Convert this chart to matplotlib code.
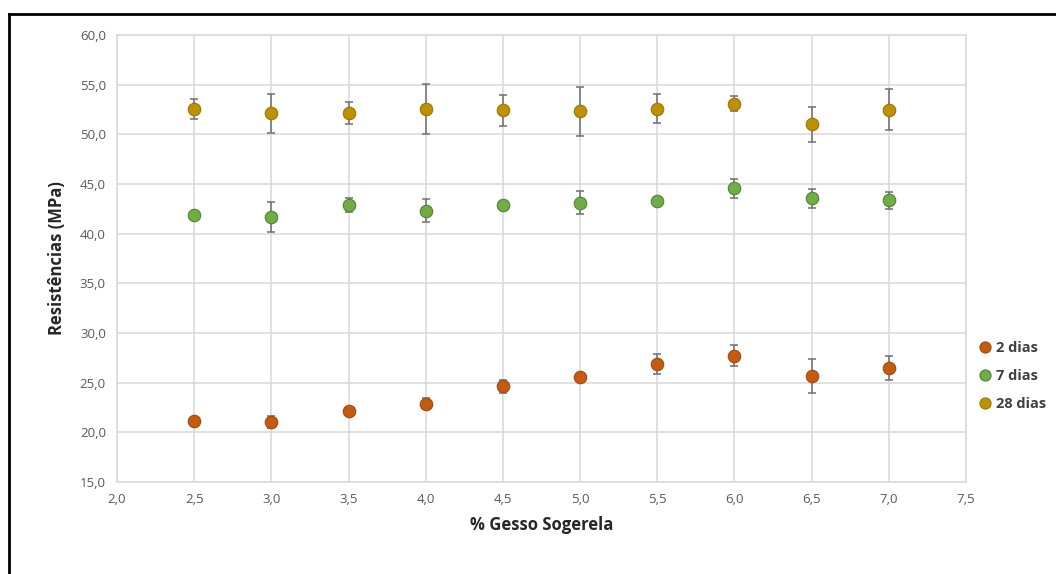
import matplotlib

matplotlib.use("Agg")
import matplotlib.pyplot as plt
from matplotlib.lines import Line2D
from matplotlib.ticker import FuncFormatter, MultipleLocator

# % gesso added to the mix
gesso = [2.5, 3.0, 3.5, 4.0, 4.5, 5.0, 5.5, 6.0, 6.5, 7.0]

# mean compressive strength (MPa) and standard deviation per curing age
r2 = [21.1, 21.05, 22.1, 22.9, 24.65, 25.6, 26.85, 27.7, 25.65, 26.5]
sd2 = [0.2, 0.6, 0.2, 0.6, 0.65, 0.2, 1.0, 1.05, 1.7, 1.2]
r7 = [41.9, 41.7, 42.85, 42.3, 42.85, 43.1, 43.3, 44.55, 43.55, 43.35]
sd7 = [0.2, 1.5, 0.7, 1.15, 0.3, 1.15, 0.2, 1.0, 0.97, 0.87]
r28 = [52.55, 52.1, 52.15, 52.55, 52.4, 52.3, 52.6, 53.1, 51.0, 52.5]
sd28 = [1.0, 2.0, 1.1, 2.5, 1.55, 2.45, 1.5, 0.8, 1.75, 2.1]

series = [
    ("2 dias", r2, sd2, "#C55A11", "#A14A0E"),
    ("7 dias", r7, sd7, "#70AD47", "#548235"),
    ("28 dias", r28, sd28, "#BF9000", "#9C7600"),
]

plt.rcParams["font.family"] = ["Open Sans", "DejaVu Sans"]

fig = plt.figure(figsize=(10.56, 5.74), dpi=100)
ax = fig.add_axes([117 / 1056, 1 - 482 / 574, (966 - 117) / 1056, (482 - 35) / 574])

for name, vals, err, face, edge in series:
    ax.errorbar(gesso, vals, yerr=err, fmt="none", ecolor="#6E6E6E",
                elinewidth=1.1, capsize=3, capthick=1.1, zorder=3)
    ax.plot(gesso, vals, "o", ms=9, mfc=face, mec=edge, mew=0.8,
            linestyle="none", zorder=4, label=name)

ax.set_xlim(2.0, 7.5)
ax.set_ylim(15, 60)
ax.xaxis.set_major_locator(MultipleLocator(0.5))
ax.yaxis.set_major_locator(MultipleLocator(5))
comma = FuncFormatter(lambda v, _: f"{v:.1f}".replace(".", ","))
ax.xaxis.set_major_formatter(comma)
ax.yaxis.set_major_formatter(comma)

ax.grid(True, color="#D9D9D9", linewidth=1.1)
ax.set_axisbelow(True)
for sp in ax.spines.values():
    sp.set_color("#D9D9D9")
    sp.set_linewidth(1.1)
ax.tick_params(length=0, labelsize=9.5, labelcolor="#595959", pad=8)

ax.set_xlabel("% Gesso Sogerela", fontsize=12, fontweight="bold",
              color="#262626", labelpad=7)
ax.set_ylabel("Resistências (MPa)", fontsize=12, fontweight="bold",
              color="#262626", labelpad=10)

handles = [Line2D([], [], marker="o", ls="none", ms=8, mfc=f, mec=e, mew=0.8)
           for _, _, _, f, e in series]
leg = fig.legend(handles, [s[0] for s in series], loc="center left",
                 bbox_to_anchor=(976 / 1056, 1 - 376 / 574), frameon=False,
                 borderpad=0, borderaxespad=0, handlelength=1.2,
                 handletextpad=0.2, labelspacing=0.95,
                 prop={"weight": "bold", "size": 10.5})
for t in leg.get_texts():
    t.set_color("#404040")

# outer chart frame (top and left edges)
fig.add_artist(Line2D([9 / 1056, 1.0], [1 - 14 / 574] * 2, color="black", lw=2))
fig.add_artist(Line2D([9 / 1056] * 2, [0.0, 1 - 14 / 574], color="black", lw=2))

fig.savefig("out.png", dpi=100)
